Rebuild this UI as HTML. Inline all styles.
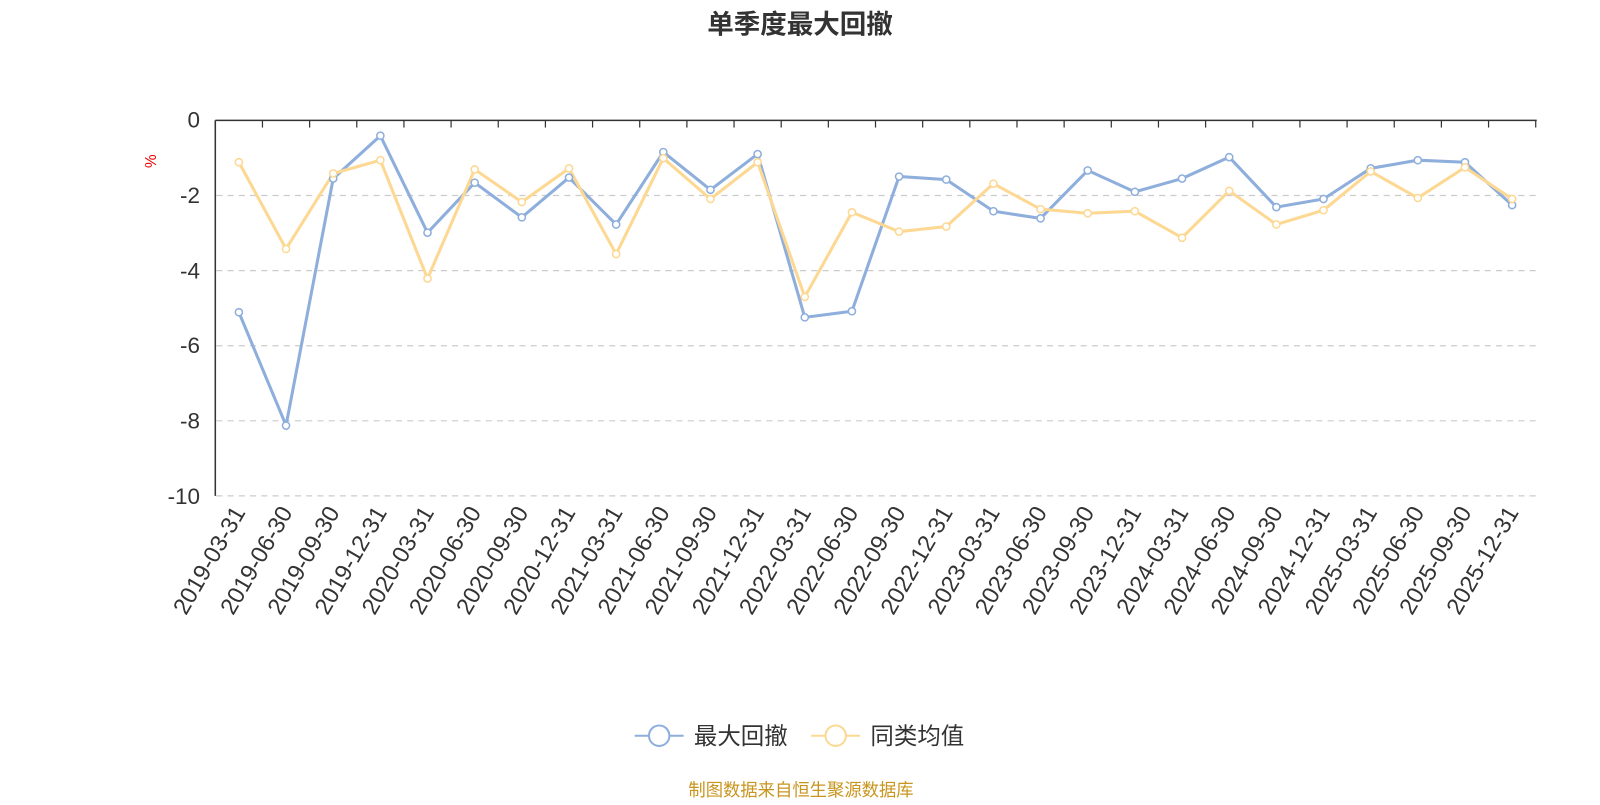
<!DOCTYPE html>
<html><head><meta charset="utf-8"><style>
body{margin:0;background:#fff;width:1600px;height:800px;overflow:hidden}
text{font-family:"Liberation Sans","Noto Sans CJK SC",sans-serif}
</style></head><body>
<svg width="1600" height="800" viewBox="0 0 1568 784" xmlns="http://www.w3.org/2000/svg">
<text x="784" y="33" text-anchor="middle" font-size="26" font-weight="bold" fill="#333">单季度最大回撤</text>
<g stroke="#ccc" stroke-dasharray="6,5" stroke-width="1.2">
<line x1="212" x2="1505" y1="191.6" y2="191.6"/><line x1="212" x2="1505" y1="265.2" y2="265.2"/>
<line x1="212" x2="1505" y1="338.8" y2="338.8"/><line x1="212" x2="1505" y1="412.4" y2="412.4"/>
<line x1="212" x2="1505" y1="486" y2="486"/>
</g>
<line x1="211" y1="118" x2="211" y2="486" stroke="#333" stroke-width="1.5"/>
<line x1="211" y1="118" x2="1506" y2="118" stroke="#333" stroke-width="1.5"/>
<g font-size="22" fill="#333" text-anchor="end">
<text x="196" y="125">0</text><text x="196" y="199">-2</text><text x="196" y="273">-4</text>
<text x="196" y="346">-6</text><text x="196" y="420">-8</text><text x="196" y="494">-10</text>
</g>
<text x="153" y="158" font-size="15" fill="#e00" transform="rotate(-90 153 158)" text-anchor="middle">%</text>
<g id="ticks" stroke="#333" stroke-width="1.2"></g>
<g id="labels" font-size="23" fill="#333" text-anchor="end"></g>
<polyline id="b" fill="none" stroke="#8eaedc" stroke-width="3"/>
<polyline id="y" fill="none" stroke="#fdd893" stroke-width="3"/>
<g id="bp"></g><g id="yp"></g>
<line x1="622" y1="721" x2="670" y2="721" stroke="#8eaedc" stroke-width="2"/>
<circle cx="646" cy="721" r="10" fill="#fff" stroke="#8eaedc" stroke-width="2"/>
<text x="680" y="729" font-size="23" fill="#333">最大回撤</text>
<line x1="795" y1="721" x2="843" y2="721" stroke="#fdd893" stroke-width="2"/>
<circle cx="819" cy="721" r="10" fill="#fff" stroke="#fdd893" stroke-width="2"/>
<text x="853" y="729" font-size="23" fill="#333">同类均值</text>
<text x="785" y="780" font-size="17" fill="#c8951e" text-anchor="middle">制图数据来自恒生聚源数据库</text>
</svg>
<script>
var B=[306,417,175,133,228,179,213,174,220,149,186,151,311,305,173,176,207,214,167,188,175,154,203,195,165,157,159,201];
var Y=[159,244,170,157,273,166,198,165,249,155,195,159,291,208,227,222,180,205,209,207,233,187,220,206,168,194,164,195];
var L=[];for(var yr=2019;yr<=2025;yr++)["03-31","06-30","09-30","12-31"].forEach(function(d){L.push(yr+"-"+d)});
var ns="http://www.w3.org/2000/svg",w=1294/28;
function el(t,a,p){var e=document.createElementNS(ns,t);for(var k in a)e.setAttribute(k,a[k]);p.appendChild(e);return e}
var t=document.getElementById("ticks"),lb=document.getElementById("labels");
for(var i=0;i<=28;i++){var x=211+i*w;el("line",{x1:x,x2:x,y1:118,y2:125},t)}
function pts(a){return a.map(function(v,i){return (211+w*(i+.5))+","+v}).join(" ")}
document.getElementById("b").setAttribute("points",pts(B));
document.getElementById("y").setAttribute("points",pts(Y));
[["bp",B,"#8eaedc"],["yp",Y,"#fdd893"]].forEach(function(s){var g=document.getElementById(s[0]);s[1].forEach(function(v,i){el("circle",{cx:211+w*(i+.5),cy:v,r:3.5,fill:"#fff",stroke:s[2],"stroke-width":1.5},g)})});
L.forEach(function(s,i){var x=211+w*(i+.5)+7,y=502;var e=el("text",{x:x,y:y,transform:"rotate(-60 "+x+" "+y+")"},lb);e.textContent=s});
</script>
</body></html>
